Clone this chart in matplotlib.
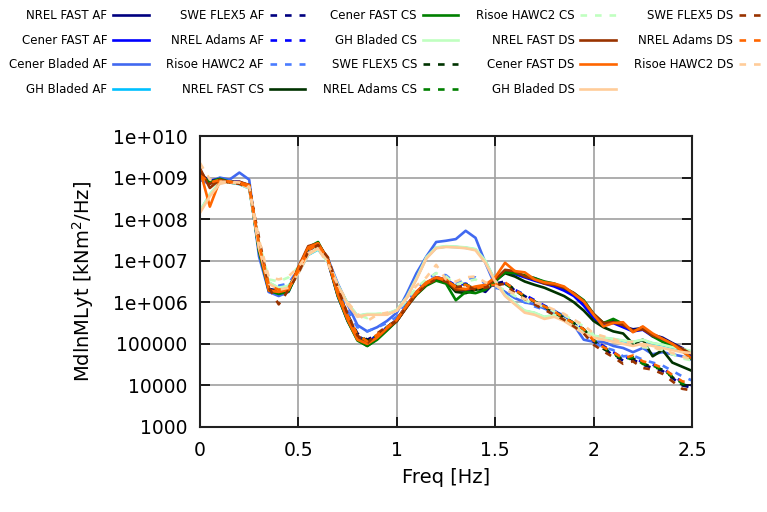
import numpy as np
import matplotlib
matplotlib.use("Agg")
import matplotlib.pyplot as plt
from matplotlib.ticker import NullLocator

# frequency axis [Hz]
freq = [0.00, 0.05, 0.10, 0.15, 0.20, 0.25, 0.30, 0.35, 0.40, 0.45,
        0.50, 0.55, 0.60, 0.65, 0.70, 0.75, 0.80, 0.85, 0.90, 0.95,
        1.00, 1.05, 1.10, 1.15, 1.20, 1.25, 1.30, 1.35, 1.40, 1.45,
        1.50, 1.55, 1.60, 1.65, 1.70, 1.75, 1.80, 1.85, 1.90, 1.95,
        2.00, 2.05, 2.10, 2.15, 2.20, 2.25, 2.30, 2.35, 2.40, 2.45, 2.50]

# PSD of MdlnMLyt, stored as log10 of [kNm^2/Hz]
nrel_fast_af = [9.10, 8.90, 8.95, 8.92, 8.88, 8.82, 7.30, 6.32, 6.28, 6.30, 6.80, 7.28, 7.40, 7.00, 6.20, 5.60, 5.15, 5.02, 5.18, 5.38,
                5.55, 5.90, 6.22, 6.45, 6.58, 6.52, 6.30, 6.28, 6.35, 6.25, 6.50, 6.75, 6.72, 6.62, 6.58, 6.48, 6.40, 6.32, 6.20, 5.98,
                5.70, 5.50, 5.55, 5.42, 5.35, 5.38, 5.22, 5.15, 5.02, 4.90, 4.75]
cener_fast_af = [9.05, 8.92, 8.98, 8.90, 8.90, 8.80, 7.25, 6.25, 6.22, 6.28, 6.78, 7.30, 7.42, 6.98, 6.15, 5.55, 5.12, 4.98, 5.15, 5.36,
                 5.58, 5.92, 6.25, 6.47, 6.60, 6.55, 6.32, 6.30, 6.33, 6.38, 6.55, 6.72, 6.68, 6.60, 6.52, 6.45, 6.38, 6.28, 6.15, 5.92,
                 5.62, 5.45, 5.50, 5.40, 5.30, 5.34, 5.18, 5.10, 4.98, 4.88, 4.72]
cener_bladed_af = [8.95, 8.85, 9.00, 8.95, 9.12, 8.95, 7.10, 6.25, 6.15, 6.25, 6.80, 7.30, 7.40, 7.05, 6.45, 5.95, 5.45, 5.30, 5.40, 5.55,
                   5.75, 6.20, 6.70, 7.10, 7.45, 7.48, 7.52, 7.72, 7.55, 6.95, 6.40, 6.25, 6.10, 6.00, 5.95, 5.85, 5.75, 5.70, 5.45, 5.10,
                   5.05, 5.05, 4.95, 4.90, 4.80, 4.90, 4.75, 4.80, 4.75, 4.70, 4.62]
gh_bladed_af = [8.19, 8.59, 8.87, 8.89, 8.84, 8.74, 7.31, 6.47, 6.34, 6.39, 6.71, 7.14, 7.27, 6.99, 6.41, 5.97, 5.67, 5.71, 5.71, 5.71,
                5.81, 6.11, 6.57, 7.07, 7.31, 7.34, 7.33, 7.31, 7.27, 6.99, 6.51, 6.17, 5.97, 5.79, 5.74, 5.64, 5.69, 5.59, 5.44, 5.29,
                5.19, 5.14, 5.11, 5.07, 5.04, 5.09, 5.01, 4.97, 4.91, 4.87, 4.81]
swe_flex5_af = [9.00, 8.88, 8.95, 8.90, 8.85, 8.78, 7.35, 6.40, 6.30, 6.35, 6.75, 7.25, 7.38, 7.02, 6.30, 5.70, 5.25, 5.10, 5.22, 5.40,
                5.58, 5.92, 6.20, 6.42, 6.55, 6.50, 6.35, 6.40, 6.30, 6.40, 6.45, 6.50, 6.28, 6.15, 6.00, 5.88, 5.78, 5.62, 5.48, 5.32,
                5.05, 4.90, 4.72, 4.60, 4.62, 4.50, 4.42, 4.35, 4.18, 4.00, 3.95]
nrel_adams_af = [9.02, 8.90, 8.96, 8.88, 8.86, 8.80, 7.30, 6.38, 6.28, 6.32, 6.78, 7.28, 7.40, 7.00, 6.25, 5.65, 5.20, 5.05, 5.20, 5.40,
                 5.60, 5.95, 6.22, 6.45, 6.60, 6.55, 6.40, 6.45, 6.35, 6.42, 6.40, 6.45, 6.30, 6.18, 6.05, 5.92, 5.80, 5.65, 5.50, 5.35,
                 5.10, 4.95, 4.80, 4.65, 4.70, 4.55, 4.50, 4.40, 4.25, 4.08, 4.00]
risoe_hawc2_af = [8.95, 8.85, 8.92, 8.90, 8.88, 8.78, 7.40, 6.45, 6.40, 6.45, 6.80, 7.22, 7.35, 7.00, 6.35, 5.80, 5.40, 5.30, 5.40, 5.50,
                  5.65, 6.00, 6.30, 6.52, 6.70, 6.65, 6.45, 6.55, 6.60, 6.45, 6.35, 6.30, 6.10, 6.00, 5.90, 5.82, 5.70, 5.60, 5.45, 5.30,
                  5.02, 4.92, 4.85, 4.70, 4.72, 4.62, 4.55, 4.48, 4.35, 4.22, 4.12]
nrel_fast_cs = [9.05, 8.90, 8.95, 8.88, 8.86, 8.82, 7.28, 6.30, 6.25, 6.28, 6.78, 7.30, 7.42, 7.02, 6.18, 5.58, 5.10, 4.95, 5.12, 5.35,
                5.55, 5.88, 6.20, 6.42, 6.55, 6.50, 6.25, 6.22, 6.30, 6.35, 6.52, 6.70, 6.62, 6.50, 6.42, 6.35, 6.25, 6.15, 6.00, 5.80,
                5.55, 5.40, 5.30, 5.25, 5.00, 5.10, 4.70, 4.85, 4.55, 4.45, 4.35]
cener_fast_cs = [9.08, 8.88, 8.97, 8.90, 8.88, 8.80, 7.22, 6.28, 6.20, 6.26, 6.75, 7.32, 7.45, 7.00, 6.15, 5.55, 5.08, 4.95, 5.10, 5.32,
                 5.55, 5.90, 6.18, 6.40, 6.52, 6.45, 6.05, 6.25, 6.22, 6.30, 6.50, 6.72, 6.70, 6.65, 6.58, 6.50, 6.45, 6.35, 6.22, 6.05,
                 5.72, 5.50, 5.60, 5.48, 5.30, 5.40, 5.18, 5.05, 4.95, 4.85, 4.62]
gh_bladed_cs = [8.20, 8.60, 8.88, 8.90, 8.85, 8.75, 7.32, 6.48, 6.35, 6.40, 6.72, 7.15, 7.28, 7.00, 6.42, 5.98, 5.68, 5.72, 5.72, 5.72,
                5.82, 6.12, 6.58, 7.08, 7.32, 7.35, 7.34, 7.32, 7.28, 7.00, 6.52, 6.18, 5.98, 5.80, 5.75, 5.65, 5.70, 5.60, 5.45, 5.30,
                5.20, 5.15, 5.12, 5.08, 5.05, 5.10, 5.02, 4.98, 4.92, 4.88, 4.82]
swe_flex5_cs = [9.02, 8.90, 8.93, 8.90, 8.85, 8.78, 7.35, 6.38, 6.30, 6.35, 6.76, 7.26, 7.40, 7.02, 6.28, 5.68, 5.22, 5.08, 5.20, 5.40,
                5.58, 5.92, 6.22, 6.45, 6.58, 6.50, 6.38, 6.42, 6.32, 6.38, 6.42, 6.48, 6.30, 6.12, 6.02, 5.90, 5.75, 5.62, 5.50, 5.35,
                5.08, 4.88, 4.75, 4.62, 4.65, 4.52, 4.45, 4.38, 4.20, 4.02, 3.98]
nrel_adams_cs = [9.00, 8.92, 8.95, 8.88, 8.87, 8.79, 7.32, 6.36, 6.30, 6.33, 6.77, 7.27, 7.40, 7.00, 6.25, 5.66, 5.20, 5.05, 5.20, 5.40,
                 5.58, 5.92, 6.22, 6.44, 6.58, 6.52, 6.38, 6.43, 6.33, 6.40, 6.42, 6.45, 6.28, 6.15, 6.02, 5.90, 5.78, 5.64, 5.50, 5.35,
                 5.10, 4.92, 4.78, 4.62, 4.68, 4.52, 4.48, 4.38, 4.22, 4.05, 4.00]
risoe_hawc2_cs = [9.00, 8.90, 8.92, 8.88, 8.85, 8.75, 7.45, 6.55, 6.50, 6.60, 6.85, 7.20, 7.30, 6.95, 6.40, 5.95, 5.70, 5.62, 5.72, 5.75,
                  5.78, 6.05, 6.35, 6.55, 6.70, 6.62, 6.42, 6.50, 6.55, 6.40, 6.38, 6.30, 6.15, 6.05, 5.95, 5.90, 5.78, 5.70, 5.55, 5.42,
                  5.22, 5.15, 5.10, 5.00, 5.05, 4.92, 4.90, 4.85, 4.75, 4.65, 4.60]
nrel_fast_ds = [9.22, 8.75, 8.95, 8.88, 8.90, 8.82, 7.35, 6.30, 6.25, 6.30, 6.85, 7.35, 7.42, 7.05, 6.25, 5.62, 5.12, 5.00, 5.15, 5.36,
                5.55, 5.88, 6.20, 6.44, 6.58, 6.52, 6.30, 6.30, 6.35, 6.38, 6.55, 6.78, 6.75, 6.62, 6.55, 6.45, 6.42, 6.35, 6.22, 6.02,
                5.72, 5.50, 5.52, 5.45, 5.32, 5.35, 5.20, 5.12, 5.00, 4.88, 4.75]
cener_fast_ds = [9.18, 8.30, 8.92, 8.90, 8.88, 8.82, 7.30, 6.28, 6.25, 6.30, 6.82, 7.32, 7.42, 7.00, 6.18, 5.58, 5.10, 5.00, 5.15, 5.38,
                 5.58, 5.92, 6.25, 6.48, 6.60, 6.55, 6.35, 6.32, 6.38, 6.42, 6.60, 6.95, 6.75, 6.72, 6.55, 6.48, 6.45, 6.38, 6.20, 6.02,
                 5.70, 5.42, 5.50, 5.52, 5.28, 5.42, 5.25, 5.12, 5.00, 4.82, 4.65]
gh_bladed_ds = [8.15, 8.55, 8.85, 8.90, 8.85, 8.75, 7.30, 6.45, 6.30, 6.35, 6.70, 7.15, 7.30, 7.00, 6.40, 5.95, 5.65, 5.70, 5.70, 5.70,
                5.80, 6.10, 6.55, 7.05, 7.30, 7.33, 7.32, 7.30, 7.25, 6.95, 6.50, 6.15, 5.95, 5.75, 5.70, 5.60, 5.65, 5.55, 5.40, 5.25,
                5.15, 5.10, 5.05, 5.00, 4.95, 5.00, 4.95, 4.90, 4.85, 4.80, 4.78]
swe_flex5_ds = [9.15, 8.85, 8.95, 8.88, 8.85, 8.75, 7.55, 6.35, 5.95, 6.30, 6.70, 7.22, 7.38, 7.08, 6.35, 5.72, 5.20, 5.02, 5.25, 5.42,
                5.55, 5.90, 6.20, 6.42, 6.55, 6.50, 6.36, 6.40, 6.30, 6.35, 6.40, 6.45, 6.22, 6.08, 5.95, 5.82, 5.70, 5.58, 5.42, 5.25,
                4.98, 4.82, 4.68, 4.52, 4.58, 4.42, 4.38, 4.28, 4.10, 3.92, 3.88]
nrel_adams_ds = [9.05, 8.88, 8.94, 8.90, 8.86, 8.78, 7.40, 6.40, 6.30, 6.34, 6.75, 7.25, 7.40, 7.02, 6.28, 5.68, 5.22, 5.06, 5.22, 5.40,
                 5.58, 5.92, 6.22, 6.45, 6.60, 6.52, 6.38, 6.42, 6.32, 6.40, 6.42, 6.48, 6.30, 6.15, 6.02, 5.90, 5.78, 5.62, 5.50, 5.35,
                 5.08, 4.92, 4.80, 4.65, 4.72, 4.58, 4.52, 4.42, 4.25, 4.10, 4.05]
risoe_hawc2_ds = [9.35, 8.95, 8.90, 8.90, 8.88, 8.78, 7.50, 6.60, 6.55, 6.62, 6.85, 7.18, 7.28, 6.92, 6.42, 6.00, 5.72, 5.55, 5.70, 5.75,
                  5.80, 6.10, 6.40, 6.60, 6.90, 6.55, 6.50, 6.60, 6.62, 6.48, 6.40, 6.30, 6.20, 6.08, 6.00, 5.92, 5.82, 5.72, 5.58, 5.45,
                  5.25, 5.18, 5.12, 5.02, 5.05, 4.95, 4.92, 4.85, 4.78, 4.70, 4.62]

ytick_vals = [1e3, 1e4, 1e5, 1e6, 1e7, 1e8, 1e9, 1e10]
ytick_labels = ["1000", "10000", "100000", "1e+006", "1e+007", "1e+008", "1e+009", "1e+010"]
xtick_vals = [0, 0.5, 1, 1.5, 2, 2.5]
xtick_labels = ["0", "0.5", "1", "1.5", "2", "2.5"]

# label, data, colour, dashed
series = [
    ("NREL FAST AF", nrel_fast_af, "#000080", False),
    ("Cener FAST AF", cener_fast_af, "#0000ff", False),
    ("Cener Bladed AF", cener_bladed_af, "#4169f0", False),
    ("GH Bladed AF", gh_bladed_af, "#00c0ff", False),
    ("SWE FLEX5 AF", swe_flex5_af, "#000080", True),
    ("NREL Adams AF", nrel_adams_af, "#0000ff", True),
    ("Risoe HAWC2 AF", risoe_hawc2_af, "#4a7cff", True),
    ("NREL FAST CS", nrel_fast_cs, "#003300", False),
    ("Cener FAST CS", cener_fast_cs, "#008000", False),
    ("GH Bladed CS", gh_bladed_cs, "#c0ffc0", False),
    ("SWE FLEX5 CS", swe_flex5_cs, "#003300", True),
    ("NREL Adams CS", nrel_adams_cs, "#008000", True),
    ("Risoe HAWC2 CS", risoe_hawc2_cs, "#c0ffc0", True),
    ("NREL FAST DS", nrel_fast_ds, "#993300", False),
    ("Cener FAST DS", cener_fast_ds, "#ff6600", False),
    ("GH Bladed DS", gh_bladed_ds, "#ffcc99", False),
    ("SWE FLEX5 DS", swe_flex5_ds, "#993300", True),
    ("NREL Adams DS", nrel_adams_ds, "#ff6600", True),
    ("Risoe HAWC2 DS", risoe_hawc2_ds, "#ffcc99", True),
]

fig = plt.figure(figsize=(7.67, 5.12), dpi=100)
ax = fig.add_axes([200 / 767, 1 - 427 / 512, 492 / 767, 291 / 512])

for label, vals, color, dashed in series:
    style = (0, (2.5, 3.0)) if dashed else "-"
    ax.plot(freq, 10 ** np.array(vals), color=color, lw=1.9, linestyle=style, label=label)

ax.set_yscale("log")
ax.set_xlim(0, 2.5)
ax.set_ylim(1e3, 1e10)
ax.set_yticks(ytick_vals)
ax.set_yticklabels(ytick_labels)
ax.yaxis.set_minor_locator(NullLocator())
ax.set_xticks(xtick_vals)
ax.set_xticklabels(xtick_labels)
ax.tick_params(direction="in", length=7, width=1.2, top=True, right=True, labelsize=13.5)
ax.tick_params(axis="y", pad=9)
ax.tick_params(axis="x", pad=10)
ax.grid(True, color="#a0a0a0", lw=1.2)
ax.set_axisbelow(True)
for sp in ax.spines.values():
    sp.set_linewidth(1.5)
    sp.set_color("#202020")

ax.set_xlabel("Freq [Hz]", fontsize=14, labelpad=6)
ax.set_ylabel("MdlnMLyt [kNm$^2$/Hz]", fontsize=14, labelpad=12)

fig.legend(loc="upper left", bbox_to_anchor=(0.0, 1.0), ncol=5, frameon=False,
           markerfirst=False, fontsize=8.5, handlelength=3.0, handletextpad=0.5,
           columnspacing=1.5, labelspacing=1.0, borderaxespad=0.35)

fig.savefig("out.png", dpi=100)
